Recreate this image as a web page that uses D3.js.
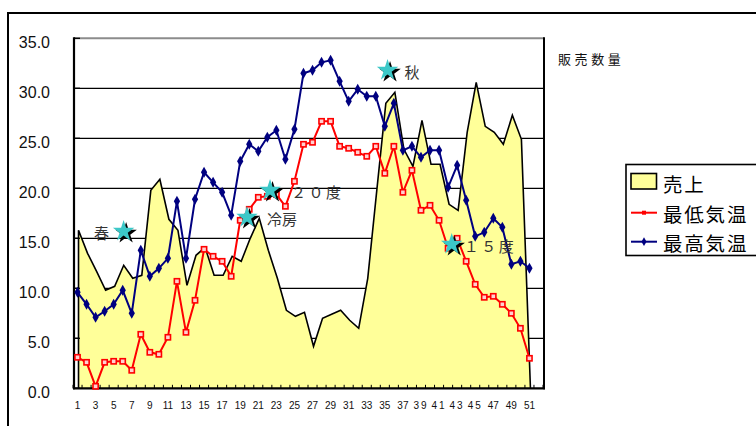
<!DOCTYPE html>
<html>
<head>
<meta charset="utf-8">
<script src="https://cdn.jsdelivr.net/npm/d3@7"></script>
<style>
  html, body { margin: 0; padding: 0; background: #fff; }
  svg { display: block; }
  text { font-family: "Liberation Sans", Arial, sans-serif; }
  .jp { font-family: "Noto Sans CJK JP", "Noto Sans CJK SC", sans-serif; }
</style>
</head>
<body>
<svg id="chart" width="756" height="426"></svg>
<script>
// Weekly sales (area) with weekly low / high temperatures (lines)
const weeks = [1,2,3,4,5,6,7,8,9,10,11,12,13,14,15,16,17,18,19,20,21,22,23,24,25,26,
  27,28,29,30,31,32,33,34,35,36,37,38,39,40,41,42,43,44,45,46,47,48,49,50,51];

const sales = [15.8,13.5,11.7,9.8,10.2,12.3,11.0,11.3,19.8,20.9,16.9,15.8,10.3,13.3,14.1,11.3,11.3,13.2,12.7,15.0,
  17.0,13.8,11.0,7.8,7.2,7.6,4.2,7.0,7.4,7.8,6.8,6.0,11.0,19.8,28.5,29.6,23.9,22.2,26.8,22.4,
  22.4,18.4,17.8,25.6,30.6,26.2,25.6,24.4,27.3,24.9,0];

const lowTemp = [3.1,2.6,0.2,2.6,2.7,2.7,1.8,5.4,3.6,3.4,5.1,10.7,5.6,8.8,13.9,13.2,12.7,11.2,16.8,17.9,
  19.1,19.2,19.4,18.2,20.7,24.4,24.6,26.7,26.7,24.2,24.0,23.6,23.2,24.2,21.5,24.2,19.6,21.8,17.8,18.3,
  16.8,14.0,15.0,12.7,10.4,9.1,9.2,8.4,7.5,6.0,3.0];

const highTemp = [9.6,8.4,7.1,7.7,8.4,9.8,7.5,13.8,11.2,12.0,13.0,18.7,13.0,18.9,21.6,20.6,19.6,17.3,22.7,24.4,
  23.7,25.1,25.8,22.9,25.9,31.5,31.8,32.6,32.8,30.7,28.7,29.9,29.2,29.2,26.2,28.5,23.8,24.2,23.1,23.8,
  23.8,20.1,22.3,18.8,15.2,15.6,17.0,16.1,12.4,12.7,12.0];

const yTicks = [0, 5, 10, 15, 20, 25, 30, 35];
const xTickLabels = [1,3,5,7,9,11,13,15,17,19,21,23,25,27,29,31,33,35,37,39,41,43,45,47,49,51];
const seriesNames = ["売上", "最低気温", "最高気温"];

// Star call-outs: week position, value, caption
const notes = [
  { text: "春",     week: 6.1,  value: 15.7 },
  { text: "冷房",   week: 19.75, value: 17.1 },
  { text: "２０度", week: 22.3, value: 19.8 },
  { text: "秋",     week: 35.3, value: 31.8 },
  { text: "１５度", week: 42.4, value: 14.4 }
];
// caption placement relative to its star (px) and tracking
const noteOffset = { "春": -14.5, "冷房": 20, "２０度": 21, "秋": 17, "１５度": 12 };
const noteTracking = { "春": 0, "冷房": 0, "２０度": 2.5, "秋": 0, "１５度": 2.5 };

const svg = d3.select("#chart");

// outer chart border
svg.append("path")
  .attr("d", "M8,430 L8,13 L760,13")
  .attr("fill", "none").attr("stroke", "#000").attr("stroke-width", 2);

const plot = { left: 73, right: 543, top: 38.3, bottom: 388.3 };

const x = d3.scaleLinear().domain([0.5, 52.5]).range([plot.left, plot.right]);
const y = d3.scaleLinear().domain([0, 35]).range([plot.bottom, plot.top]);

// horizontal gridlines
svg.append("g").selectAll("line")
  .data(yTicks.filter(v => v > 0 && v < 35))
  .join("line")
  .attr("x1", plot.left + 1).attr("x2", plot.right + 1)
  .attr("y1", d => y(d)).attr("y2", d => y(d))
  .attr("stroke", "#000").attr("stroke-width", 1.3);

// top edge of the plot area
svg.append("line")
  .attr("x1", plot.left + 1).attr("x2", plot.right + 1)
  .attr("y1", y(35)).attr("y2", y(35))
  .attr("stroke", "#8c8c8c").attr("stroke-width", 2);

// sales area
const areaPts = weeks.map((w, i) => [w, sales[i]]);
const area = d3.area()
  .x(d => x(d[0]) + 1)
  .y0(y(0))
  .y1(d => y(d[1]));
svg.append("path")
  .datum(areaPts)
  .attr("d", area)
  .attr("fill", "#ffff99");

const outline = d3.line().x(d => d[0]).y(d => d[1]);
const outlinePts = [[x(weeks[0]) + 1, y(0)]]
  .concat(areaPts.map(d => [x(d[0]) + 1, y(d[1])]));
svg.append("path")
  .attr("d", outline(outlinePts))
  .attr("fill", "none").attr("stroke", "#000").attr("stroke-width", 1.6)
  .attr("stroke-linejoin", "miter");

// axes frame
const axisG = svg.append("g");
axisG.append("line")
  .attr("x1", plot.left + 1).attr("x2", plot.left + 1)
  .attr("y1", y(35) - 1).attr("y2", y(0) + 1)
  .attr("stroke", "#000").attr("stroke-width", 2.2);
axisG.append("line")
  .attr("x1", plot.right + 1).attr("x2", plot.right + 1)
  .attr("y1", y(35) - 1).attr("y2", y(0) + 1)
  .attr("stroke", "#000").attr("stroke-width", 2);
axisG.append("line")
  .attr("x1", plot.left).attr("x2", plot.right + 2)
  .attr("y1", y(0)).attr("y2", y(0))
  .attr("stroke", "#000").attr("stroke-width", 2.2);

// y ticks (inward)
axisG.selectAll(".yt")
  .data(yTicks)
  .join("line")
  .attr("x1", plot.left + 1).attr("x2", plot.left + 7)
  .attr("y1", d => y(d)).attr("y2", d => y(d))
  .attr("stroke", "#000").attr("stroke-width", 1.3);

// x ticks at category boundaries (inward)
axisG.selectAll(".xt")
  .data(d3.range(0, 53))
  .join("line")
  .attr("x1", d => x(d + 0.5)).attr("x2", d => x(d + 0.5))
  .attr("y1", y(0)).attr("y2", y(0) - 3.5)
  .attr("stroke", "#000").attr("stroke-width", 1);

// y tick labels
svg.append("g").selectAll("text")
  .data(yTicks)
  .join("text")
  .attr("x", 50).attr("y", d => y(d) + 10)
  .attr("text-anchor", "end")
  .attr("font-size", 16)
  .attr("fill", "#111")
  .text(d => d.toFixed(1));

// x tick labels
svg.append("g").selectAll("text")
  .data(xTickLabels)
  .join("text")
  .attr("x", d => x(d))
  .attr("y", 408.5)
  .attr("text-anchor", "middle")
  .attr("font-size", 10)
  .attr("fill", "#111")
  .attr("letter-spacing", d => (d >= 39 && d <= 45) ? 2 : 0)
  .text(d => d);

// temperature lines
const line = d3.line().x(d => x(d[0])).y(d => y(d[1]));
const lowPts = weeks.map((w, i) => [w, lowTemp[i]]);
const highPts = weeks.map((w, i) => [w, highTemp[i]]);

svg.append("path").datum(lowPts).attr("d", line)
  .attr("fill", "none").attr("stroke", "#ff0000").attr("stroke-width", 2);
svg.append("g").selectAll("rect")
  .data(lowPts).join("rect")
  .attr("x", d => x(d[0]) - 2.6).attr("y", d => y(d[1]) - 2.6)
  .attr("width", 5.2).attr("height", 5.2)
  .attr("fill", "#ffd0d0").attr("stroke", "#ff0000").attr("stroke-width", 1.6);

svg.append("path").datum(highPts).attr("d", line)
  .attr("fill", "none").attr("stroke", "#000080").attr("stroke-width", 2);
const diamond = d3.symbol(d3.symbolDiamond, 34);
svg.append("g").selectAll("path")
  .data(highPts).join("path")
  .attr("transform", d => `translate(${x(d[0])},${y(d[1])})`)
  .attr("d", diamond)
  .attr("fill", "#000080");

// star call-outs
const star = d3.symbol(d3.symbolStar, 143);
const noteG = svg.append("g").selectAll("g").data(notes).join("g")
  .attr("transform", d => `translate(${x(d.week)},${y(d.value)})`);
noteG.append("path").attr("d", star)
  .attr("transform", "translate(2.5,2)")
  .attr("fill", "#000");
noteG.append("path").attr("d", star)
  .attr("fill", "#3cc8c8");
noteG.append("text")
  .attr("class", "jp")
  .attr("x", d => noteOffset[d.text])
  .attr("y", 1)
  .attr("dominant-baseline", "central")
  .attr("text-anchor", d => noteOffset[d.text] < 0 ? "end" : "start")
  .attr("font-size", 15)
  .attr("letter-spacing", d => noteTracking[d.text])
  .attr("fill", "#333")
  .text(d => d.text);

// secondary axis caption
svg.append("text")
  .attr("class", "jp")
  .attr("x", 558).attr("y", 58)
  .attr("dominant-baseline", "central")
  .attr("font-size", 13)
  .attr("letter-spacing", 3.6)
  .attr("fill", "#111")
  .text("販売数量");

// legend
const lg = svg.append("g");
lg.append("rect")
  .attr("x", 626).attr("y", 164.5).attr("width", 140).attr("height", 91)
  .attr("fill", "#fff").attr("stroke", "#000").attr("stroke-width", 1.6);
lg.append("rect")
  .attr("x", 631).attr("y", 173.5).attr("width", 25.5).attr("height", 15.5)
  .attr("fill", "#ffff99").attr("stroke", "#000").attr("stroke-width", 1.6);
lg.append("line").attr("x1", 631).attr("x2", 657).attr("y1", 212.7).attr("y2", 212.7)
  .attr("stroke", "#ff0000").attr("stroke-width", 2);
lg.append("rect").attr("x", 642).attr("y", 210.7).attr("width", 4).attr("height", 4)
  .attr("fill", "#ff0000");
lg.append("line").attr("x1", 631).attr("x2", 657).attr("y1", 241.7).attr("y2", 241.7)
  .attr("stroke", "#000080").attr("stroke-width", 2);
lg.append("path").attr("d", d3.symbol(d3.symbolDiamond, 22)())
  .attr("transform", "translate(644,241.7)").attr("fill", "#000080");
lg.selectAll("text.lt")
  .data(seriesNames)
  .join("text")
  .attr("class", "jp")
  .attr("x", 663)
  .attr("y", (d, i) => [183, 213.5, 242.3][i])
  .attr("dominant-baseline", "central")
  .attr("font-size", 19.5)
  .attr("letter-spacing", 1.8)
  .attr("fill", "#000")
  .text(d => d);
</script>
</body>
</html>
